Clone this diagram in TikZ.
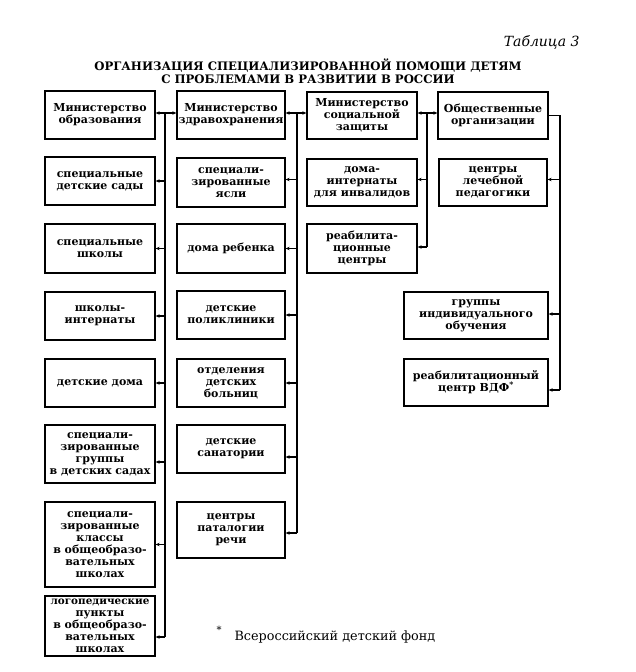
\documentclass[tikz,border=0pt]{standalone}
\usepackage{fontspec}
\setmainfont{DejaVu Serif}
\usetikzlibrary{arrows.meta}
\begin{document}
\begin{tikzpicture}[x=1pt,y=-1pt,
  box/.style={draw, line width=1.3pt, align=center, inner sep=1pt,
    font=\bfseries\fontsize{11}{12}\selectfont},
  w110/.style={minimum width=110pt},
  w108/.style={minimum width=108pt},
  w144/.style={minimum width=144pt},
  link/.style={line width=1.1pt},
  arr/.style={line width=1.1pt, -{Stealth[length=4pt,width=3.5pt]}},
  darr/.style={line width=1.1pt, {Stealth[length=4pt,width=3.5pt]}-{Stealth[length=4pt,width=3.5pt]}}]
\useasboundingbox (0,0) rectangle (636,672);
% titles
\node[font=\itshape\fontsize{14}{16}\selectfont, anchor=east] (tab) at (583,42) {Таблица 3};
\node[font=\bfseries\fontsize{11.7}{13}\selectfont, align=center] (title) at (308,71.5)
  {ОРГАНИЗАЦИЯ СПЕЦИАЛИЗИРОВАННОЙ ПОМОЩИ ДЕТЯМ\\С ПРОБЛЕМАМИ В РАЗВИТИИ В РОССИИ};
% column 1
\node[box,w110,minimum height=48pt] (obr) at (100,115) {Министерство\\образования};
\node[box,w110,minimum height=48pt] (sad) at (100,181) {специальные\\детские сады};
\node[box,w110,minimum height=49pt] (shk) at (100,248.5) {специальные\\школы};
\node[box,w110,minimum height=48pt] (int) at (100,316) {школы-\\интернаты};
\node[box,w110,minimum height=48pt] (dom) at (100,383) {детские дома};
\node[box,w110,minimum height=58pt] (grp) at (100,454) {специали-\\зированные\\группы\\в детских садах};
\node[box,w110,minimum height=85pt] (kls) at (100,544.5) {специали-\\зированные\\классы\\в общеобразо-\\вательных\\школах};
\node[box,w110,minimum height=60pt] (log) at (100,626) {{\fontsize{10.4}{12}\selectfont логопедические}\\пункты\\в общеобразо-\\вательных\\школах};
% column 2
\node[box,w108,minimum height=48pt] (zdr) at (231,115) {Министерство\\здравохранения};
\node[box,w108,minimum height=49pt] (yas) at (231,182.5) {специали-\\зированные\\ясли};
\node[box,w108,minimum height=49pt] (reb) at (231,248.5) {дома ребенка};
\node[box,w108,minimum height=48pt] (pol) at (231,315) {детские\\поликлиники};
\node[box,w108,minimum height=48pt] (otd) at (231,383) {отделения\\детских\\больниц};
\node[box,w108,minimum height=48pt] (san) at (231,449) {детские\\санатории};
\node[box,w108,minimum height=56pt] (rech) at (231,530) {центры\\паталогии\\речи};
% column 3
\node[box,w110,minimum height=47pt] (soc) at (362,115.5) {Министерство\\социальной\\защиты};
\node[box,w110,minimum height=47pt] (dint) at (362,182.5) {дома-\\интернаты\\для инвалидов};
\node[box,w110,minimum height=49pt] (reab) at (362,248.5) {реабилита-\\ционные\\центры};
% column 4
\node[box,w110,minimum height=47pt] (obsh) at (493,115.5) {Общественные\\организации};
\node[box,w108,minimum height=47pt] (ped) at (493,182.5) {центры\\лечебной\\педагогики};
\node[box,w144,minimum height=47pt] (ind) at (476,315.5) {группы\\индивидуального\\обучения};
\node[box,w144,minimum height=47pt] (vdf) at (476,382.5) {реабилитационный\\центр ВДФ\textsuperscript{*}};
% bus coordinates
\coordinate (b1) at (165,113);
\coordinate (b1e) at (165,637);
\coordinate (b2) at (297,113);
\coordinate (b2e) at (297,533);
\coordinate (b3) at (427,113);
\coordinate (b3e) at (427,247);
\coordinate (b4) at (560,115.5);
\coordinate (b4e) at (560,390);
% top double arrows
\draw[darr] (obr.east |- b1) -- (zdr.west |- b1);
\draw[darr] (zdr.east |- b2) -- (soc.west |- b2);
\draw[darr] (soc.east |- b3) -- (obsh.west |- b3);
\draw[link] (b1) -- (b1e);
\draw[link] (b2) -- (b2e);
\draw[link] (b3) -- (b3e);
\draw[link] (obsh.east) -- (b4) -- (b4e);
% stubs column 1
\draw[arr] (b1 |- sad.east) -- (sad.east);
\draw[arr] (b1 |- shk.east) -- (shk.east);
\draw[arr] (b1 |- int.east) -- (int.east);
\draw[arr] (b1 |- dom.east) -- (dom.east);
\draw[arr] ([yshift=-8pt]grp.east -| b1) -- ([yshift=-8pt]grp.east);
\draw[arr] (b1 |- kls.east) -- (kls.east);
\draw[arr] (b1e) -- (b1e -| log.east);
% stubs column 2
\draw[arr] ([yshift=3pt]yas.east -| b2) -- ([yshift=3pt]yas.east);
\draw[arr] (b2 |- reb.east) -- (reb.east);
\draw[arr] (b2 |- pol.east) -- (pol.east);
\draw[arr] (b2 |- otd.east) -- (otd.east);
\draw[arr] ([yshift=-8pt]san.east -| b2) -- ([yshift=-8pt]san.east);
\draw[arr] (b2e) -- (b2e -| rech.east);
% stubs column 3
\draw[arr] ([yshift=3pt]dint.east -| b3) -- ([yshift=3pt]dint.east);
\draw[arr] (b3e) -- (b3e -| reab.east);
% stubs column 4
\draw[arr] ([yshift=3pt]ped.east -| b4) -- ([yshift=3pt]ped.east);
\draw[arr] ([yshift=1.5pt]ind.east -| b4) -- ([yshift=1.5pt]ind.east);
\draw[arr] (b4e) -- (b4e -| vdf.east);
% footnote
\node[font=\fontsize{10}{12}\selectfont] (star) at (219,630) {*};
\node[font=\fontsize{12.8}{14}\selectfont, anchor=west] (fn) at (231,637) {Всероссийский детский фонд};
\end{tikzpicture}
\end{document}
